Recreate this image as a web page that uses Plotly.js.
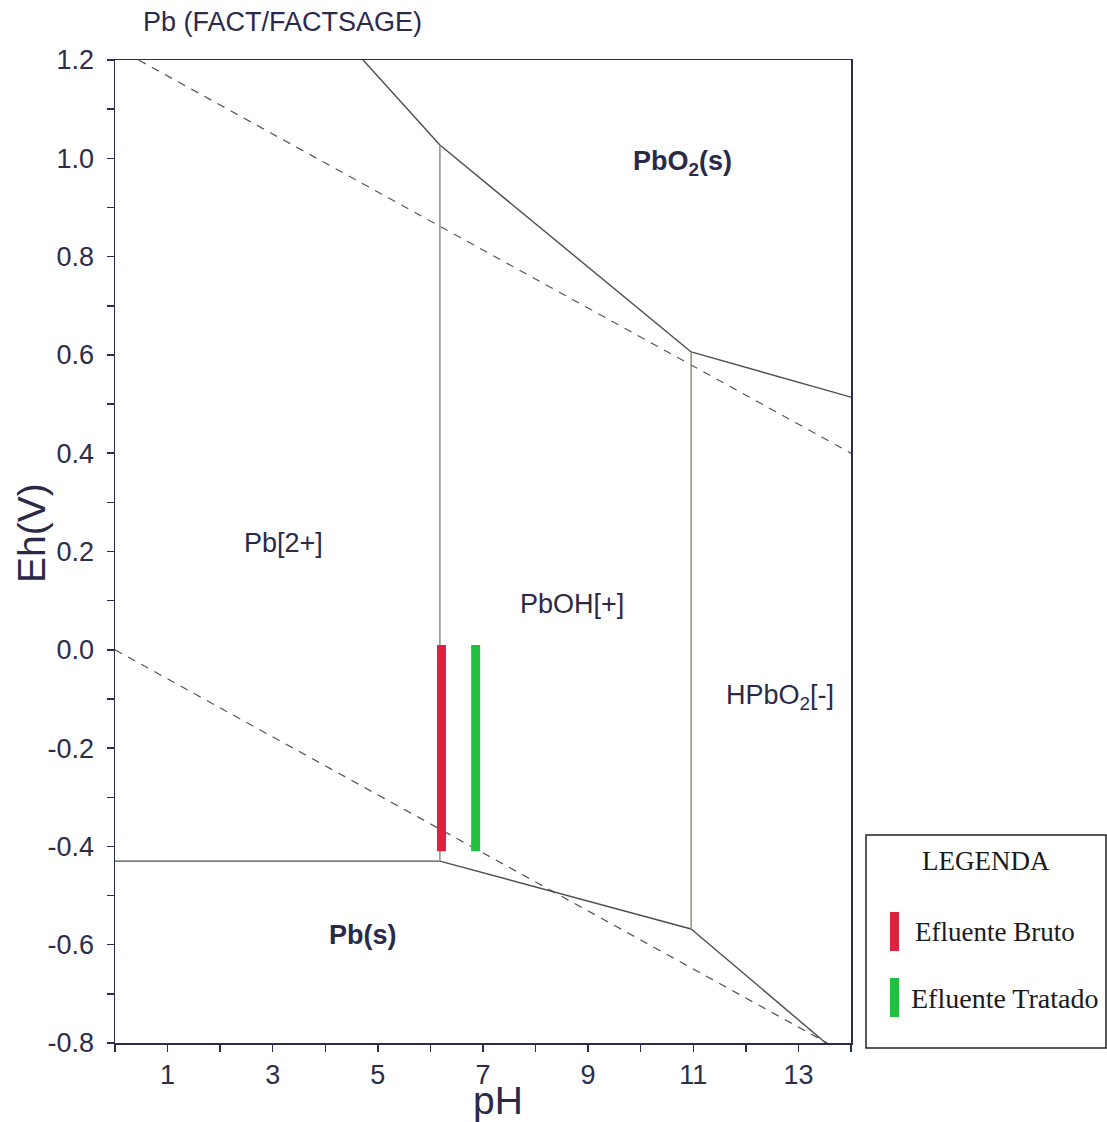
<!DOCTYPE html>
<html>
<head>
<meta charset="utf-8">
<script src="https://cdn.plot.ly/plotly-3.0.1.min.js"></script>
<style>html,body{margin:0;padding:0;background:#fff;}#chart{width:1107px;height:1122px;}</style>
</head>
<body>
<div id="chart"></div>
<script>
// Boundary lines (pH, Eh)
const pb2_pbs_x = [0, 6.18];            const pb2_pbs_y = [-0.43, -0.43];
const pb2_pbo2_x = [4.72, 6.18];         const pb2_pbo2_y = [1.2, 1.027];
const pboh_pbo2_x = [6.18, 10.96];       const pboh_pbo2_y = [1.027, 0.606];
const hpbo2_pbo2_x = [10.96, 14];        const hpbo2_pbo2_y = [0.606, 0.514];
const pboh_pbs_x = [6.18, 10.96];        const pboh_pbs_y = [-0.43, -0.568];
const hpbo2_pbs_x = [10.96, 13.52];      const hpbo2_pbs_y = [-0.568, -0.8];
const pb2_pboh_x = [6.18, 6.18];         const pb2_pboh_y = [-0.43, 1.027];
const pboh_hpbo2_x = [10.96, 10.96];     const pboh_hpbo2_y = [-0.568, 0.606];
// Water stability lines (dashed)
const o2_x = [0.45, 14];                 const o2_y = [1.2, 0.40];
const h2_x = [0, 13.55];                 const h2_y = [0.0, -0.8];
// Effluent measurements
const bruto_x = [6.21, 6.21];            const bruto_y = [0.01, -0.41];
const tratado_x = [6.86, 6.86];          const tratado_y = [0.01, -0.41];
// Region labels
const region_text = ['Pb[2+]', 'PbOH[+]', '<b>PbO<sub>2</sub>(s)</b>', '<b>Pb(s)</b>', 'HPbO<sub>2</sub>[-]'];
const region_x = [3.2, 8.69, 10.79, 4.72, 12.65];
const region_y = [0.217, 0.093, 0.99, -0.58, -0.096];
// Tick labels
const xtickvals = [1, 3, 5, 7, 9, 11, 13];
const xticktext = ['1', '3', '5', '7', '9', '11', '13'];
const ytickvals = [1.2, 1.0, 0.8, 0.6, 0.4, 0.2, 0.0, -0.2, -0.4, -0.6, -0.8];
const yticktext = ['1.2', '1.0', '0.8', '0.6', '0.4', '0.2', '0.0', '-0.2', '-0.4', '-0.6', '-0.8'];
const legend_labels = ['Efluente Bruto', 'Efluente Tratado'];

const solidCol = '#4d4d4d';
const vertCol = '#8a9a8a';
const axisCol = '#2b2d4a';
const sans = 'Liberation Sans, Arial, sans-serif';
const serif = 'Liberation Serif, Times New Roman, serif';

function seg(x, y, color, width, dash) {
  return {x: x, y: y, type: 'scatter', mode: 'lines', showlegend: false, hoverinfo: 'skip',
          line: {color: color, width: width, dash: dash || 'solid'}};
}

const traces = [
  seg(o2_x, o2_y, '#555555', 1.2, '8px,7px'),
  seg(h2_x, h2_y, '#555555', 1.2, '8px,7px'),
  seg(pb2_pbs_x, pb2_pbs_y, solidCol, 1.4),
  seg(pb2_pbo2_x, pb2_pbo2_y, solidCol, 1.4),
  seg(pboh_pbo2_x, pboh_pbo2_y, solidCol, 1.4),
  seg(hpbo2_pbo2_x, hpbo2_pbo2_y, solidCol, 1.4),
  seg(pboh_pbs_x, pboh_pbs_y, solidCol, 1.4),
  seg(hpbo2_pbs_x, hpbo2_pbs_y, solidCol, 1.4),
  seg(pb2_pboh_x, pb2_pboh_y, vertCol, 1.6),
  seg(pboh_hpbo2_x, pboh_hpbo2_y, vertCol, 1.6),
  Object.assign(seg(bruto_x, bruto_y, '#e0203f', 9), {name: legend_labels[0]}),
  Object.assign(seg(tratado_x, tratado_y, '#22c040', 9), {name: legend_labels[1]})
];

const annotations = region_text.map((t, i) => ({
  x: region_x[i], y: region_y[i], xref: 'x', yref: 'y', text: t, showarrow: false,
  font: {family: sans, size: 27, color: '#2a2a48'}
}));

// Positions in paper coordinates
const W = 1107, H = 1122, L = 115, R = 851, T = 60, B = 1043;
const pw = R - L, ph = B - T;
function px(x) { return (x - L) / pw; }
function py(y) { return (B - y) / ph; }

// Axis titles
annotations.push({xref: 'paper', yref: 'paper', x: px(498), y: py(1100), text: 'pH', showarrow: false,
  font: {family: sans, size: 39, color: '#2a2a48'}, xanchor: 'center', yanchor: 'middle'});
annotations.push({xref: 'paper', yref: 'paper', x: px(31), y: py(533), text: 'Eh(V)', showarrow: false,
  textangle: -90, font: {family: sans, size: 39, color: '#2a2a48'}, xanchor: 'center', yanchor: 'middle'});

// Legend box contents
annotations.push({xref: 'paper', yref: 'paper', x: px(986), y: py(861), text: 'LEGENDA', showarrow: false,
  font: {family: serif, size: 27, color: '#1a1a1a'}, xanchor: 'center', yanchor: 'middle'});
annotations.push({xref: 'paper', yref: 'paper', x: px(913), y: py(932), text: legend_labels[0], showarrow: false,
  font: {family: serif, size: 27, color: '#1a1a1a'}, xanchor: 'left', yanchor: 'middle'});
annotations.push({xref: 'paper', yref: 'paper', x: px(909), y: py(998), text: legend_labels[1], showarrow: false,
  font: {family: serif, size: 28, color: '#1a1a1a'}, xanchor: 'left', yanchor: 'middle'});

const shapes = [
  {type: 'rect', xref: 'paper', yref: 'paper', x0: px(866), x1: px(1106), y0: py(1048), y1: py(835),
   line: {color: '#222222', width: 1.5}, fillcolor: 'rgba(0,0,0,0)'},
  {type: 'rect', xref: 'paper', yref: 'paper', x0: px(890), x1: px(899), y0: py(951), y1: py(912),
   line: {width: 0}, fillcolor: '#e0203f'},
  {type: 'rect', xref: 'paper', yref: 'paper', x0: px(890), x1: px(899), y0: py(1017), y1: py(978),
   line: {width: 0}, fillcolor: '#22c040'}
];

const tickFont = {family: sans, size: 27, color: axisCol};

const layout = {
  width: W, height: H,
  margin: {l: L, r: W - R, t: T, b: H - B, pad: 0},
  paper_bgcolor: '#ffffff', plot_bgcolor: '#ffffff',
  showlegend: false,
  title: {text: 'Pb (FACT/FACTSAGE)', x: 143 / W, xref: 'container', xanchor: 'left',
          y: 1 - 22 / H, yref: 'container', yanchor: 'middle',
          font: {family: sans, size: 27, color: '#2a2a50'}},
  xaxis: {range: [0, 14], showgrid: false, zeroline: false,
          showline: true, linecolor: axisCol, linewidth: 1.5, mirror: true,
          tickmode: 'array', tickvals: xtickvals, ticktext: xticktext,
          ticks: 'outside', ticklen: 7, tickwidth: 1.5, tickcolor: axisCol,
          minor: {dtick: 1, tick0: 0, ticks: 'outside', ticklen: 7, tickwidth: 1.5, tickcolor: axisCol, showgrid: false},
          tickfont: tickFont, ticklabelstandoff: 0},
  yaxis: {range: [-0.8, 1.2], showgrid: false, zeroline: false,
          showline: true, linecolor: axisCol, linewidth: 1.5, mirror: true,
          tickmode: 'array', tickvals: ytickvals, ticktext: yticktext,
          ticks: 'outside', ticklen: 7, tickwidth: 1.5, tickcolor: axisCol,
          minor: {dtick: 0.1, tick0: 0, ticks: 'outside', ticklen: 7, tickwidth: 1.5, tickcolor: axisCol, showgrid: false},
          tickfont: tickFont, ticklabelstandoff: 7},
  annotations: annotations,
  shapes: shapes
};

Plotly.newPlot('chart', traces, layout, {displayModeBar: false, staticPlot: true});
</script>
</body>
</html>
